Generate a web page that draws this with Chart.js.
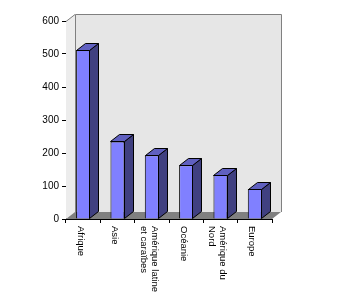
<!DOCTYPE html>
<html>
<head>
<meta charset="utf-8">
<script src="https://cdn.jsdelivr.net/npm/chart.js@4/dist/chart.umd.min.js"></script>
<style>
  html, body { margin: 0; padding: 0; background: #fff; }
  #wrap { width: 344px; height: 302px; }
</style>
</head>
<body>
<div id="wrap"><canvas id="chart" width="344" height="302"></canvas></div>
<script>
const categories = [
    ['Afrique'],
    ['Asie'],
    ['Amérique latine', 'et caraïbes'],
    ['Océanie'],
    ['Amérique du', 'Nord'],
    ['Europe']
];
const values = [512, 235, 193, 163, 133, 91];
const yTicks = [0, 100, 200, 300, 400, 500, 600];

// depth of the fake 3d effect
const DX = 9, DY = -7;

const walls3d = {
    id: 'walls3d',
    beforeDatasetsDraw(chart) {
        const ctx = chart.ctx;
        const x = chart.scales.x, y = chart.scales.y;
        const l = x.left, r = x.right;
        const t = y.getPixelForValue(yTicks[yTicks.length - 1]);
        const b = y.getPixelForValue(0);
        ctx.save();
        // back wall
        ctx.fillStyle = '#e6e6e6';
        ctx.fillRect(l + DX, t + DY, r - l, b - t);
        ctx.strokeStyle = '#808080';
        ctx.lineWidth = 1;
        ctx.beginPath();
        ctx.moveTo(l + DX + 0.5, b + DY);
        ctx.lineTo(l + DX + 0.5, t + DY + 0.5);
        ctx.lineTo(r + DX + 0.5, t + DY + 0.5);
        ctx.lineTo(r + DX + 0.5, b + DY);
        ctx.stroke();
        // left wall
        ctx.fillStyle = '#ececec';
        ctx.beginPath();
        ctx.moveTo(l, t);
        ctx.lineTo(l + DX, t + DY);
        ctx.lineTo(l + DX, b + DY);
        ctx.lineTo(l, b);
        ctx.closePath();
        ctx.fill();
        ctx.beginPath();
        ctx.moveTo(l, t + 0.5);
        ctx.lineTo(l + DX, t + DY + 0.5);
        ctx.stroke();
        // floor
        ctx.fillStyle = '#808080';
        ctx.beginPath();
        ctx.moveTo(l, b);
        ctx.lineTo(r, b);
        ctx.lineTo(r + DX, b + DY);
        ctx.lineTo(l + DX, b + DY);
        ctx.closePath();
        ctx.fill();
        ctx.restore();
    },
    afterDatasetsDraw(chart) {
        const ctx = chart.ctx;
        ctx.save();
        ctx.strokeStyle = '#000';
        ctx.lineWidth = 1;
        chart.getDatasetMeta(0).data.forEach(bar => {
            const p = bar.getProps(['x', 'y', 'base', 'width'], true);
            const left = Math.round(p.x - p.width / 2) + 0.5;
            const right = Math.round(p.x + p.width / 2) - 0.5;
            const top = Math.round(p.y) + 0.5;
            const base = Math.round(p.base) - 0.5;
            // side face
            ctx.fillStyle = '#404080';
            ctx.beginPath();
            ctx.moveTo(right, top);
            ctx.lineTo(right + DX, top + DY);
            ctx.lineTo(right + DX, base + DY);
            ctx.lineTo(right, base);
            ctx.closePath();
            ctx.fill();
            ctx.stroke();
            // top face
            ctx.fillStyle = '#6060c0';
            ctx.beginPath();
            ctx.moveTo(left, top);
            ctx.lineTo(left + DX, top + DY);
            ctx.lineTo(right + DX, top + DY);
            ctx.lineTo(right, top);
            ctx.closePath();
            ctx.fill();
            ctx.stroke();
        });
        ctx.restore();
    },
    afterDraw(chart) {
        // category labels, rotated to read top to bottom
        const ctx = chart.ctx;
        const x = chart.scales.x;
        ctx.save();
        ctx.fillStyle = '#000';
        ctx.font = '9.5px "Liberation Sans", Arial, sans-serif';
        ctx.textAlign = 'left';
        ctx.textBaseline = 'middle';
        categories.forEach((lines, i) => {
            ctx.save();
            ctx.translate(x.getPixelForValue(i) - 3, x.top + 7);
            ctx.rotate(Math.PI / 2);
            lines.forEach((s, j) => {
                ctx.fillText(s, 0, (j - (lines.length - 1) / 2) * 11);
            });
            ctx.restore();
        });
        ctx.restore();
    }
};

new Chart(document.getElementById('chart'), {
    type: 'bar',
    data: {
        labels: categories,
        datasets: [{
            data: values,
            backgroundColor: '#8080ff',
            borderColor: '#000',
            borderWidth: 1,
            barPercentage: 0.41,
            categoryPercentage: 1
        }]
    },
    options: {
        responsive: false,
        animation: false,
        layout: { padding: { top: 21, right: 72, left: 0, bottom: 0 } },
        plugins: {
            legend: { display: false },
            tooltip: { enabled: false }
        },
        scales: {
            x: {
                ticks: { display: false },
                grid: { drawOnChartArea: false, color: '#000', tickLength: 4 },
                border: { color: '#000' },
                afterFit(s) { s.height = 83; }
            },
            y: {
                min: 0,
                max: 600,
                ticks: {
                    stepSize: 100,
                    color: '#000',
                    padding: 3,
                    font: { family: '"Liberation Sans", Arial, sans-serif', size: 10 }
                },
                grid: { drawOnChartArea: false, color: '#000', tickLength: 4 },
                border: { color: '#000' },
                afterFit(s) { s.width = 66; }
            }
        }
    },
    plugins: [walls3d]
});
</script>
</body>
</html>
